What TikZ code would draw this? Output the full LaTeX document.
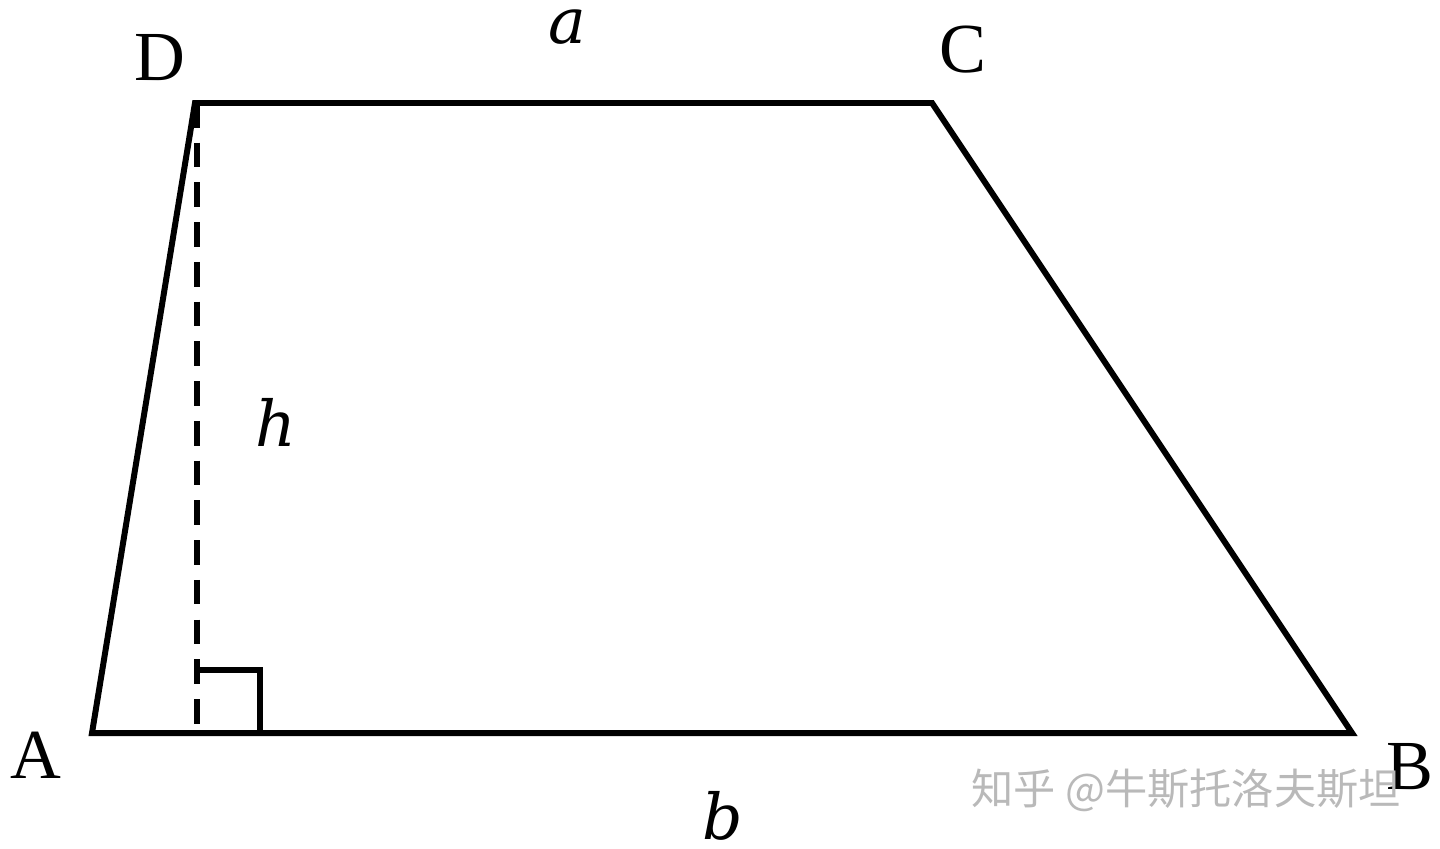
\documentclass[tikz,border=0pt]{standalone}
\usepackage{fontspec}
\setmainfont{Liberation Serif}
\newfontfamily\varfont{DejaVu Serif}
\newfontfamily\cjk{Noto Sans CJK SC}
\usetikzlibrary{calc}

\begin{document}
\begin{tikzpicture}[x=0.01cm, y=-0.01cm, line width=1.7pt, line join=miter,
  vtx/.style={font=\fontsize{20}{24}\selectfont},
  var/.style={font=\varfont\itshape\fontsize{18}{22}\selectfont}]
\useasboundingbox (0,0) rectangle (1440,848);
\coordinate (A) at (92,733);
\coordinate (B) at (1352,733);
\coordinate (C) at (932,103);
\coordinate (D) at (195,103);
\coordinate (H) at (197,733);
\draw (A) -- (B) -- (C) -- (D) -- cycle;
\draw[dash pattern=on 7pt off 4.3pt] (197,103) -- (H);
\draw ($(H)+(0,-63)$) -| ($(H)+(63,0)$);
\node[vtx] (lA) at (36,755) {A};
\node[vtx] (lB) at (1410,767) {B};
\node[vtx] (lC) at (963,50) {C};
\node[vtx] (lD) at (160,58) {D};
\node[var] (la) at (567,27) {a};
\node[var] (lb) at (723,816) {b};
\node[var] (lh) at (276,422) {h};
\node[text=gray!55, font=\cjk\fontsize{12}{15}\selectfont] (wm) at (1186,790) {知乎 @牛斯托洛夫斯坦};
\end{tikzpicture}
\end{document}
